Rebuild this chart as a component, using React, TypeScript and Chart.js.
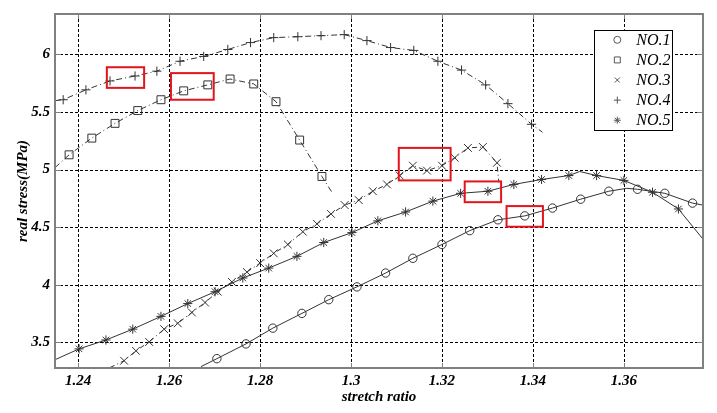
import React, { useEffect, useRef } from 'react';
import { Chart, registerables } from 'chart.js';
Chart.register(...registerables);

// axis ranges and ticks
const xMin = 1.2349;
const xMax = 1.3774;
const yMin = 3.278;
const yMax = 6.35;
const xTicks = [1.24, 1.26, 1.28, 1.3, 1.32, 1.34, 1.36];
const yTicks = [3.5, 4, 4.5, 5, 5.5, 6];

const seriesLabels = ['NO.1', 'NO.2', 'NO.3', 'NO.4', 'NO.5'];

// NO.1 (circles)
const no1X = [1.2670, 1.2705, 1.2769, 1.2828, 1.2892, 1.2951, 1.3013, 1.3076, 1.3136, 1.3200, 1.3261, 1.3323, 1.3382, 1.3443, 1.3505, 1.3567, 1.3606, 1.3630, 1.3690, 1.3751, 1.3773];
const no1Y = [3.290, 3.359, 3.487, 3.624, 3.752, 3.871, 3.982, 4.102, 4.230, 4.350, 4.470, 4.564, 4.598, 4.666, 4.743, 4.812, 4.837, 4.829, 4.794, 4.709, 4.692];
const no1Unmarked = [0, 16, 20];

// NO.2 (squares)
const no2X = [1.2349, 1.2380, 1.2430, 1.2481, 1.2531, 1.2582, 1.2632, 1.2685, 1.2734, 1.2786, 1.2835, 1.2887, 1.2936, 1.2958];
const no2Y = [5.017, 5.128, 5.273, 5.401, 5.512, 5.606, 5.683, 5.735, 5.786, 5.743, 5.589, 5.256, 4.940, 4.803];
const no2Unmarked = [0, 13];

// NO.3 (x)
const no3X = [1.2470, 1.2501, 1.2527, 1.2556, 1.2589, 1.2619, 1.2650, 1.2679, 1.2707, 1.2738, 1.2771, 1.2800, 1.2830, 1.2861, 1.2894, 1.2925, 1.2956, 1.2986, 1.3017, 1.3048, 1.3079, 1.3107, 1.3136, 1.3167, 1.3200, 1.3228, 1.3257, 1.3290, 1.3321, 1.3325];
const no3Y = [3.282, 3.341, 3.427, 3.504, 3.615, 3.666, 3.760, 3.846, 3.940, 4.025, 4.111, 4.188, 4.273, 4.350, 4.461, 4.529, 4.615, 4.692, 4.735, 4.812, 4.871, 4.948, 5.034, 4.991, 5.034, 5.102, 5.188, 5.196, 5.059, 4.888];
const no3Unmarked = [0, 29];

// NO.4 (+)
const no4X = [1.2349, 1.2367, 1.2417, 1.2470, 1.2525, 1.2573, 1.2624, 1.2676, 1.2729, 1.2779, 1.2830, 1.2883, 1.2934, 1.2985, 1.3035, 1.3087, 1.3138, 1.3191, 1.3243, 1.3296, 1.3345, 1.3397, 1.3421];
const no4Y = [5.598, 5.606, 5.692, 5.769, 5.812, 5.854, 5.940, 5.982, 6.042, 6.102, 6.145, 6.153, 6.162, 6.171, 6.119, 6.059, 6.034, 5.940, 5.863, 5.735, 5.572, 5.393, 5.324];
const no4Unmarked = [0, 22];

// NO.5 (*)
const no5X = [1.2349, 1.2402, 1.2461, 1.2520, 1.2582, 1.2641, 1.2701, 1.2762, 1.2819, 1.2881, 1.2940, 1.3002, 1.3059, 1.3120, 1.3180, 1.3241, 1.3301, 1.3358, 1.3419, 1.3479, 1.3503, 1.3540, 1.3600, 1.3663, 1.3720, 1.3773];
const no5Y = [3.350, 3.444, 3.521, 3.615, 3.726, 3.837, 3.940, 4.059, 4.145, 4.247, 4.367, 4.453, 4.555, 4.632, 4.726, 4.794, 4.812, 4.871, 4.914, 4.948, 4.983, 4.948, 4.906, 4.803, 4.658, 4.401];
const no5Unmarked = [0, 20, 25];

// highlighted regions (data coordinates): [x0, x1, y0, y1]
const highlightBoxes = [
  [1.2463, 1.2545, 5.709, 5.888],
  [1.2604, 1.2698, 5.606, 5.837],
  [1.3105, 1.3219, 4.906, 5.188],
  [1.3250, 1.3330, 4.717, 4.897],
  [1.3342, 1.3422, 4.504, 4.683],
];

const LINE = '#333333';
const FRAME = '#808080';
const SERIF = '"Liberation Serif", "Times New Roman", serif';

function drawMarker(ctx: CanvasRenderingContext2D, style: string, x: number, y: number, r: number) {
  ctx.beginPath();
  if (style === 'circle') {
    ctx.arc(x, y, r, 0, Math.PI * 2);
  } else if (style === 'rect') {
    const s = r * Math.SQRT1_2;
    ctx.rect(x - s, y - s, 2 * s, 2 * s);
  } else if (style === 'cross') {
    ctx.moveTo(x - r, y); ctx.lineTo(x + r, y);
    ctx.moveTo(x, y - r); ctx.lineTo(x, y + r);
  } else if (style === 'crossRot') {
    const s = r * Math.SQRT1_2;
    ctx.moveTo(x - s, y - s); ctx.lineTo(x + s, y + s);
    ctx.moveTo(x - s, y + s); ctx.lineTo(x + s, y - s);
  } else if (style === 'star') {
    const s = r * Math.SQRT1_2;
    ctx.moveTo(x - r, y); ctx.lineTo(x + r, y);
    ctx.moveTo(x, y - r); ctx.lineTo(x, y + r);
    ctx.moveTo(x - s, y - s); ctx.lineTo(x + s, y + s);
    ctx.moveTo(x - s, y + s); ctx.lineTo(x + s, y - s);
  }
  ctx.stroke();
}

const extrasPlugin = {
  id: 'extras',
  beforeDatasetsDraw(chart: any) {
    const { ctx, chartArea } = chart;
    const xs = chart.scales.x;
    const ys = chart.scales.y;
    ctx.save();
    ctx.strokeStyle = '#000000';
    ctx.lineWidth = 1;
    ctx.setLineDash([3, 2]);
    ctx.beginPath();
    for (const v of xTicks) {
      const px = Math.round(xs.getPixelForValue(v)) + 0.5;
      ctx.moveTo(px, chartArea.top); ctx.lineTo(px, chartArea.bottom);
    }
    for (const v of yTicks) {
      const py = Math.round(ys.getPixelForValue(v)) + 0.5;
      ctx.moveTo(chartArea.left, py); ctx.lineTo(chartArea.right, py);
    }
    ctx.stroke();
    ctx.restore();
  },
  afterDatasetsDraw(chart: any) {
    const { ctx, chartArea } = chart;
    const xs = chart.scales.x;
    const ys = chart.scales.y;
    ctx.save();
    // inward tick marks
    ctx.strokeStyle = FRAME;
    ctx.lineWidth = 1;
    ctx.beginPath();
    for (const v of xTicks) {
      const px = Math.round(xs.getPixelForValue(v)) + 0.5;
      ctx.moveTo(px, chartArea.bottom); ctx.lineTo(px, chartArea.bottom - 5);
      ctx.moveTo(px, chartArea.top); ctx.lineTo(px, chartArea.top + 5);
    }
    for (const v of yTicks) {
      const py = Math.round(ys.getPixelForValue(v)) + 0.5;
      ctx.moveTo(chartArea.left, py); ctx.lineTo(chartArea.left + 6, py);
      ctx.moveTo(chartArea.right, py); ctx.lineTo(chartArea.right - 6, py);
    }
    ctx.stroke();
    // frame
    ctx.lineWidth = 2;
    ctx.strokeRect(chartArea.left, chartArea.top, chartArea.right - chartArea.left, chartArea.bottom - chartArea.top);
    // highlight boxes
    ctx.strokeStyle = '#e3141c';
    ctx.lineWidth = 2;
    for (const b of highlightBoxes) {
      const x0 = xs.getPixelForValue(b[0]);
      const x1 = xs.getPixelForValue(b[1]);
      const y0 = ys.getPixelForValue(b[2]);
      const y1 = ys.getPixelForValue(b[3]);
      ctx.strokeRect(x0, y1, x1 - x0, y0 - y1);
    }
    // legend
    const lx = xs.getPixelForValue(1.3535);
    const rx = xs.getPixelForValue(1.3707);
    const ty = ys.getPixelForValue(6.213);
    const by = ys.getPixelForValue(5.341);
    ctx.fillStyle = '#ffffff';
    ctx.fillRect(lx, ty, rx - lx, by - ty);
    ctx.strokeStyle = '#000000';
    ctx.lineWidth = 1;
    ctx.strokeRect(Math.round(lx) + 0.5, Math.round(ty) + 0.5, Math.round(rx - lx), Math.round(by - ty));
    const rowH = (by - ty) / 5;
    chart.data.datasets.forEach((ds: any, i: number) => {
      const cy = ty + rowH * (i + 0.5);
      ctx.strokeStyle = '#555555';
      ctx.lineWidth = 1;
      drawMarker(ctx, ds.pointStyle, lx + 23, cy, ds.pointStyle === 'rect' ? 4.2 : 3.5);
      ctx.fillStyle = '#000000';
      ctx.font = 'italic 16px ' + SERIF;
      ctx.textBaseline = 'middle';
      ctx.textAlign = 'left';
      ctx.fillText(ds.label, lx + 42, cy + 1);
    });
    ctx.restore();
  },
};

function makeData(xsArr: number[], ysArr: number[]) {
  return xsArr.map((x, i) => ({ x, y: ysArr[i] }));
}

function ds(label: string, xsArr: number[], ysArr: number[], unmarked: number[], style: string, r: number, dash: number[]) {
  return {
    label,
    data: makeData(xsArr, ysArr),
    showLine: true,
    borderColor: LINE,
    borderWidth: 1,
    borderDash: dash,
    backgroundColor: 'rgba(0,0,0,0)',
    pointStyle: style,
    pointBorderColor: LINE,
    pointBackgroundColor: 'rgba(0,0,0,0)',
    pointBorderWidth: 1,
    pointRadius: (c: any) => (unmarked.includes(c.dataIndex) ? 0 : r),
    tension: 0,
  };
}

export default function App() {
  const ref = useRef<HTMLCanvasElement | null>(null);
  useEffect(() => {
    document.body.style.margin = '0';
    const canvas = ref.current;
    if (!canvas) return;
    const tickFont = { family: SERIF, size: 15, style: 'italic' as const, weight: 'bold' as const };
    const chart = new Chart(canvas, {
      type: 'scatter',
      data: {
        datasets: [
          ds(seriesLabels[0], no1X, no1Y, no1Unmarked, 'circle', 4.2, []),
          ds(seriesLabels[1], no2X, no2Y, no2Unmarked, 'rect', 5.6, [6, 3, 1, 3]),
          ds(seriesLabels[2], no3X, no3Y, no3Unmarked, 'crossRot', 5.5, [5, 3, 1, 3]),
          ds(seriesLabels[3], no4X, no4Y, no4Unmarked, 'cross', 4.6, [6, 3, 1, 3]),
          ds(seriesLabels[4], no5X, no5Y, no5Unmarked, 'star', 4.6, []),
        ] as any,
      },
      options: {
        animation: false,
        responsive: true,
        maintainAspectRatio: false,
        layout: { padding: { top: 9, right: 14, left: 0, bottom: 0 } },
        plugins: { legend: { display: false }, tooltip: { enabled: false } },
        events: [],
        scales: {
          x: {
            type: 'linear',
            min: xMin,
            max: xMax,
            afterBuildTicks: (s: any) => { s.ticks = xTicks.map((v) => ({ value: v })); },
            afterFit: (s: any) => { s.height = 45; },
            grid: { display: false, drawTicks: false },
            border: { display: false },
            ticks: {
              padding: 4,
              color: '#000',
              font: tickFont,
              maxRotation: 0,
              autoSkip: false,
              callback: (v: any) => String(Number(Number(v).toFixed(2))),
            },
            title: {
              display: true,
              text: 'stretch ratio',
              color: '#000',
              font: { family: SERIF, size: 15, style: 'italic', weight: 'bold' },
              padding: { top: 0, bottom: 7 },
            },
          },
          y: {
            type: 'linear',
            min: yMin,
            max: yMax,
            afterBuildTicks: (s: any) => { s.ticks = yTicks.map((v) => ({ value: v })); },
            afterFit: (s: any) => { s.width = 55; },
            grid: { display: false, drawTicks: false },
            border: { display: false },
            ticks: {
              padding: 5,
              color: '#000',
              font: tickFont,
              callback: (v: any) => String(Number(Number(v).toFixed(2))),
            },
            title: {
              display: true,
              text: 'real stress(MPa)',
              color: '#000',
              font: { family: SERIF, size: 15, style: 'italic', weight: 'bold' },
              padding: { top: 14, bottom: 0 },
            },
          },
        },
      } as any,
      plugins: [extrasPlugin],
    });
    return () => chart.destroy();
  }, []);
  return (
    <div style={{ position: 'absolute', left: 0, top: 0, width: 717, height: 413 }}>
      <canvas ref={ref} />
    </div>
  );
}
